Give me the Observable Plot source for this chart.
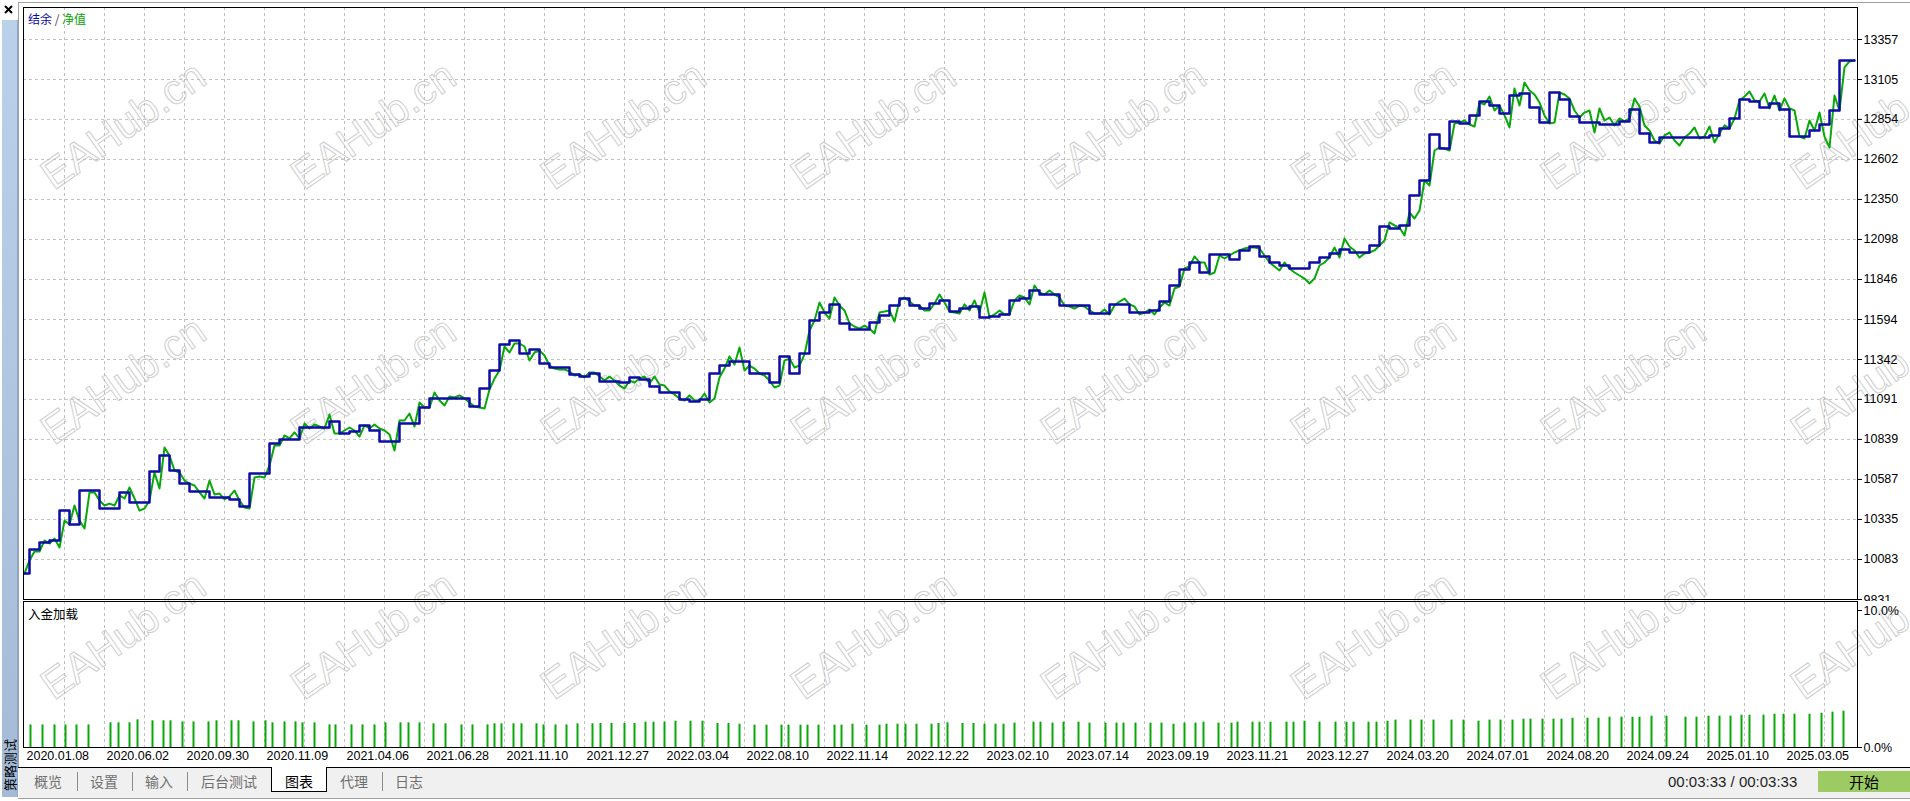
<!DOCTYPE html>
<html><head><meta charset="utf-8">
<script src="https://cdn.jsdelivr.net/npm/d3@7"></script>
<script src="https://cdn.jsdelivr.net/npm/@observablehq/plot@0.6"></script>
<style>
html,body{margin:0;padding:0;background:#fff;}
#root{position:relative;width:1910px;height:801px;overflow:hidden;background:#fff;font-family:"Liberation Sans",Arial,sans-serif;}
.abs{position:absolute;}
.cjk{font-family:"Noto Sans CJK SC","Noto Sans",sans-serif;}
.tab{position:absolute;top:770px;height:22px;line-height:22px;text-align:center;font-size:14px;color:#6f6f6f;}
.sep{position:absolute;top:772px;width:1px;height:19px;background:#8c8c8c;}
</style></head><body>
<div id="root">
  <svg id="wm" class="abs" style="left:0;top:0" width="1910" height="801"></svg>
  <div id="mainChart" class="abs" style="left:0;top:0"></div>
  <div id="loadChart" class="abs" style="left:0;top:600px"></div>

  <!-- window chrome -->
  <div class="abs" style="left:18px;top:2px;width:1892px;height:1px;background:#a0a0a0"></div>
  <div class="abs" style="left:18px;top:2px;width:1px;height:765px;background:#a0a0a0"></div>
  <svg class="abs" style="left:0;top:0" width="18" height="18"><path d="M5 6 L12 13 M12 6 L5 13" stroke="#000" stroke-width="2"/></svg>
  <div class="abs" style="left:2px;top:20px;width:15px;height:777px;background:linear-gradient(#bad1ea,#a3bbd7);border-right:1px solid #8ea7c6"></div>
  <div class="abs cjk" style="left:9px;top:765px;transform:translate(-50%,-50%) rotate(-90deg);font-size:13px;color:#000;white-space:nowrap">策略测试</div>

  <div class="abs cjk" style="left:28px;top:10px;font-size:12px;white-space:nowrap"><span style="color:#0a0a9c">结余</span><span style="color:#444"> / </span><span style="color:#05a305">净值</span></div>
  <div class="abs cjk" style="left:28px;top:604px;font-size:12.5px;color:#000;white-space:nowrap">入金加载</div>

  <div class="abs" style="left:18px;top:767px;width:1892px;height:1px;background:#000"></div>
  <div class="abs" style="left:19px;top:768px;width:1891px;height:30px;background:#f0f0f0"></div>
  <div class="abs" style="left:18px;top:798px;width:1892px;height:1px;background:#a0a0a0"></div>
  <div class="abs" style="left:271px;top:767px;width:54px;height:24px;background:#fff;border:1px solid #000;border-top:none"></div>
  <div class="sep" style="left:77px"></div>
  <div class="sep" style="left:132px"></div>
  <div class="sep" style="left:187px"></div>
  <div class="sep" style="left:382px"></div>
  <div class="tab cjk" style="left:24px;width:48px">概览</div>
  <div class="tab cjk" style="left:80px;width:48px">设置</div>
  <div class="tab cjk" style="left:135px;width:48px">输入</div>
  <div class="tab cjk" style="left:190px;width:78px">后台测试</div>
  <div class="tab cjk" style="left:272px;width:54px;color:#000">图表</div>
  <div class="tab cjk" style="left:330px;width:48px">代理</div>
  <div class="tab cjk" style="left:385px;width:48px">日志</div>
  <div class="abs" style="left:1668px;top:773px;font-size:15px;color:#1e1e1e;white-space:nowrap">00:03:33 / 00:03:33</div>
  <div class="abs cjk" style="left:1818px;top:771px;width:92px;height:21px;line-height:21px;background:#9ccb64;text-align:center;font-size:15px;color:#000">开始</div>
</div>
<script>
// ---- data ----
const balance = [9995,10146,10190,10202,10391,10303,10517,10517,10404,10404,
10505,10442,10442,10637,10738,10643,10561,10511,10511,10473,
10473,10461,10417,10624,10624,10813,10838,10838,10914,10914,
10914,10952,10876,10889,10927,10895,10826,10826,10939,10939,
11040,11097,11097,11097,11097,11046,11160,11273,11437,11462,
11380,11405,11317,11292,11292,11248,11235,11254,11204,11204,
11197,11229,11216,11172,11134,11134,11090,11078,11090,11254,
11304,11330,11330,11254,11254,11197,11361,11254,11380,11588,
11638,11689,11569,11531,11531,11575,11619,11682,11726,11682,
11663,11695,11714,11644,11663,11676,11607,11613,11626,11714,
11726,11777,11751,11751,11682,11682,11682,11632,11632,11689,
11689,11638,11638,11651,11707,11808,11909,11953,11890,12003,
12003,11972,12029,12054,11991,11953,11934,11915,11915,11953,
11984,12010,12035,12016,12016,12060,12180,12167,12186,12375,
12469,12759,12671,12841,12828,12879,12967,12942,12891,13004,
13017,12929,12834,13023,12979,12872,12834,12834,12822,12822,
12841,12916,12765,12709,12740,12740,12740,12740,12740,12753,
12797,12860,12979,12967,12929,12954,12916,12746,12746,12784,
12822,12910,13225,13225];

const equity = [9995,10077,10133,10133,10202,10184,10215,10158,10328,10303,
10423,10328,10278,10505,10505,10454,10423,10435,10423,10486,
10467,10536,10467,10391,10404,10454,10631,10530,10788,10738,
10643,10631,10580,10561,10549,10505,10467,10580,10492,10498,
10461,10480,10517,10454,10410,10404,10599,10605,10599,10675,
10801,10801,10864,10845,10883,10845,10939,10908,10933,10920,
10908,10996,10876,10876,10895,10914,10895,10857,10927,10908,
10933,10908,10895,10870,10769,10958,10958,11002,10920,11071,
11040,11040,11134,11084,11053,11109,11103,11116,11097,11071,
11046,11040,11034,11153,11222,11273,11424,11386,11443,11443,
11424,11336,11386,11399,11367,11304,11285,11279,11279,11267,
11241,11248,11229,11260,11260,11235,11210,11235,11210,11178,
11160,11210,11197,11222,11235,11191,11235,11185,11178,11141,
11122,11097,11084,11116,11084,11084,11128,11071,11097,11229,
11285,11361,11311,11418,11273,11304,11285,11254,11241,11210,
11166,11178,11336,11348,11292,11304,11374,11525,11588,11701,
11638,11600,11733,11682,11651,11569,11550,11537,11556,11537,
11506,11638,11644,11651,11581,11714,11733,11707,11682,11682,
11651,11651,11695,11751,11701,11644,11638,11632,11689,11651,
11714,11638,11764,11607,11626,11651,11626,11626,11714,11745,
11733,11689,11808,11764,11751,11777,11751,11733,11682,11676,
11663,11682,11676,11651,11632,11632,11657,11626,11682,11707,
11726,11689,11676,11626,11638,11657,11626,11670,11701,11682,
11789,11802,11915,11928,11991,11953,11953,11877,11890,11997,
11978,11997,12016,12029,12041,12047,12047,12041,11997,11953,
11928,11903,11953,11915,11890,11871,11852,11821,11852,11934,
11953,11984,12047,11984,12104,12054,12029,11984,12010,12016,
12029,12060,12091,12205,12186,12173,12123,12268,12230,12280,
12469,12438,12658,12677,12671,12658,12828,12834,12847,12822,
12809,12960,12948,12998,12910,12942,12879,12803,13049,12942,
13086,13036,13011,12960,12879,12828,12834,13023,13011,12986,
12910,12866,12897,12910,12771,12923,12847,12866,12816,12860,
12841,12860,12986,12935,12816,12784,12721,12702,12753,12771,
12721,12690,12740,12765,12803,12734,12746,12809,12708,12765,
12816,12797,12860,12973,12998,13030,12973,12967,13017,12923,
13004,12910,12986,12923,12910,12746,12734,12847,12784,12897,
12746,12677,13004,12910,13181,13219,13225];

// deposit load bars: step position and percent
const loadStep = [1.2,3.6,6.0,8.2,10.4,12.8,17.2,18.8,21.0,22.6,25.6,27.8,29.2,31.6,33.8,36.8,38.4,41.4,42.8,45.8,
48.2,49.6,52.0,54.2,55.6,58.0,61.0,62.2,65.4,67.6,70.0,72.2,75.2,76.8,79.0,81.8,84.2,87.4,89.6,92.6,
94.0,95.4,97.8,99.4,102.4,103.8,106.2,108.4,110.6,113.6,
115.2,117.4,120.0,122.0,124.2,125.8,128.0,130.2,133.2,135.6,138.6,140.8,143.0,146.0,148.4,151.4,152.8,155.2,156.6,158.8,
162.0,163.4,165.6,168.4,171.0,172.4,174.6,176.2,178.4,181.4,182.8,184.6,187.6,189.8,192.0,194.2,195.8,198.0,201.8,203.2,
205.6,207.8,210.8,213.0,216.2,218.4,219.8,222.2,225.2,227.4,229.8,232.0,234.2,235.8,238.8,241.4,242.6,245.6,247.0,249.2,
252.4,253.8,256.0,259.0,262.2,264.4,265.8,268.8,270.4,272.6,274.2,
277.2,279.4,281.8,285.4,287.8,290.8,293.0,295.2,297.6,299.8,301.2,303.6,305.8,307.4,309.6,312.6,314.8,317.0,319.4,321.6,
323.0,325.4,328.4,332.2,334.4,336.8,339.0,341.2,343.4,345.0,347.8,350.0,351.8,354.0,357.0,359.4,361.6,363.8];
const loadPct = [1.65,1.65,1.65,1.65,1.65,1.65,1.80,1.80,1.80,2.02,1.95,1.95,1.95,1.87,1.87,1.87,1.95,1.95,1.95,1.87,
1.95,1.80,1.87,1.87,1.80,1.80,1.65,1.65,1.65,1.65,1.65,1.80,1.80,1.80,1.80,1.73,1.73,1.65,1.65,1.65,
1.73,1.73,1.73,1.73,1.73,1.65,1.65,1.65,1.73,1.73,
1.75,1.75,1.75,1.75,1.85,1.85,1.85,1.92,1.92,1.92,1.75,1.75,1.70,1.63,1.63,1.63,1.63,1.63,1.63,1.63,
1.63,1.63,1.70,1.63,1.63,1.70,1.70,1.70,1.70,1.70,1.75,1.80,1.75,1.75,1.70,1.70,1.70,1.78,1.85,1.85,
1.78,1.85,1.85,1.78,1.78,1.78,1.78,1.78,1.78,1.78,1.70,1.78,1.78,1.85,1.78,1.78,1.85,1.85,1.85,1.85,
1.85,1.85,1.92,1.85,1.85,1.85,1.85,1.85,1.85,1.92,2.00,
2.00,2.00,2.00,2.00,2.00,1.92,2.00,2.00,2.00,2.07,2.07,2.07,2.07,2.07,2.14,2.14,2.14,2.21,2.21,2.21,
2.21,2.29,2.29,2.21,2.21,2.29,2.29,2.29,2.36,2.36,2.36,2.43,2.43,2.43,2.43,2.50,2.58,2.65];

const yTicks = [9831,10083,10335,10587,10839,11091,11342,11594,11846,12098,12350,12602,12854,13105,13357];
const pctTicks = [0, 10];
const xLabels = ["2020.01.08","2020.06.02","2020.09.30","2020.11.09","2021.04.06","2021.06.28","2021.11.10","2021.12.27",
"2022.03.04","2022.08.10","2022.11.14","2022.12.22","2023.02.10","2023.07.14","2023.09.19","2023.11.21","2023.12.27",
"2024.03.20","2024.07.01","2024.08.20","2024.09.24","2025.01.10","2025.03.05"];
const xLabelSteps = xLabels.map((_, i) => i * 16);
const gridSteps = d3.range(8, 361, 8);

// ---- styling ----
const BLUE = "#0d0da6", GREEN = "#08a808", GRID = "#c0c0c0";
const W = 1910, ML = 23, MR = 53;
const xDomain = [-0.2, 366.6];
const font = {fontFamily: "Liberation Sans, Arial, sans-serif", fontSize: "12.5px", background: "transparent", overflow: "hidden", color: "#000"};

const main = Plot.plot({
  width: W, height: 601,
  marginLeft: ML, marginRight: MR, marginTop: 7, marginBottom: 2,
  style: font,
  x: {domain: xDomain, axis: null, label: null},
  y: {domain: [9831, 13558.5], axis: null, label: null},
  marks: [
    Plot.gridY(yTicks, {stroke: GRID, strokeOpacity: 1, strokeDasharray: "3,3"}),
    Plot.gridX(gridSteps, {stroke: GRID, strokeOpacity: 1, strokeDasharray: "3,3"}),
    Plot.line(equity, {x: (d, i) => i, y: d => d, stroke: GREEN, strokeWidth: 2}),
    Plot.line(balance, {x: (d, i) => 2 * i, y: d => d, curve: "step", stroke: BLUE, strokeWidth: 2.5}),
    Plot.axisY(yTicks, {anchor: "right", label: null, tickSize: 4, tickPadding: 2, tickFormat: d => String(d), fontSize: 12.5}),
    Plot.frame({stroke: "#000"})
  ]
});
document.getElementById("mainChart").appendChild(main);

const loads = loadStep.map((s, i) => ({s, p: loadPct[i]}));
const lower = Plot.plot({
  width: W, height: 168,
  marginLeft: ML, marginRight: MR, marginTop: 1, marginBottom: 21,
  style: font,
  x: {domain: xDomain, axis: null, label: null},
  y: {domain: [0, 10.657], axis: null, label: null},
  marks: [
    Plot.gridX(gridSteps, {stroke: GRID, strokeOpacity: 1, strokeDasharray: "3,3"}),
    Plot.ruleX(loads, {x: "s", y1: 0, y2: "p", stroke: GREEN, strokeWidth: 2}),
    Plot.axisY(pctTicks, {anchor: "right", label: null, tickSize: 4, tickPadding: 2, tickFormat: d => d.toFixed(1) + "%", fontSize: 12.5}),
    Plot.axisX(xLabelSteps, {anchor: "bottom", label: null, tickSize: 0, tickPadding: 4, textAnchor: "start", dx: 2,
      tickFormat: d => xLabels[xLabelSteps.indexOf(d)], fontSize: 12.5}),
    Plot.frame({stroke: "#000"})
  ]
});
document.getElementById("loadChart").appendChild(lower);

// watermark layer
const wm = d3.select("#wm");
for (const cy of [125, 380, 635]) {
  for (let k = 0; k < 8; k++) {
    const cx = 123 + 250 * k;
    wm.append("text").attr("x", 0).attr("y", 0)
      .attr("transform", `translate(${cx},${cy}) rotate(-35)`)
      .attr("text-anchor", "middle").attr("dominant-baseline", "central")
      .attr("font-family", "Liberation Sans, Arial, sans-serif").attr("font-size", 42)
      .attr("fill", "none").attr("stroke", "#cfcfcf").attr("stroke-width", 1)
      .text("EAHub.cn");
  }
}
</script>
</body></html>
